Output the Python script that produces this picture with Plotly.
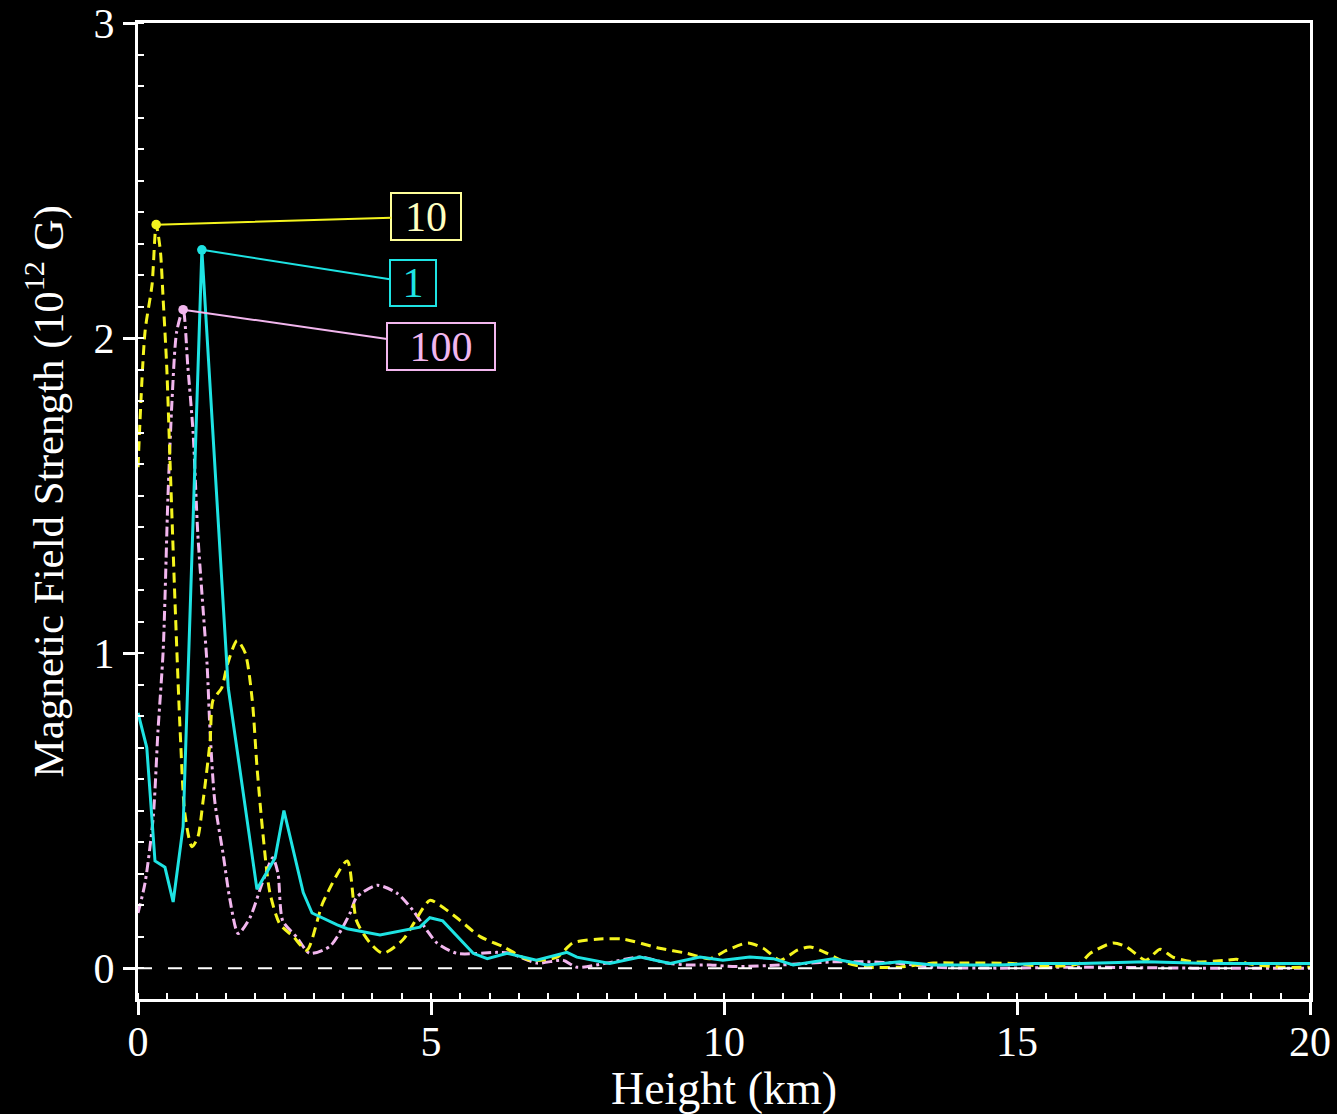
import numpy as np
import plotly.graph_objects as go

# ---- data ----
h1 = [0, 0.15, 0.29, 0.46, 0.6, 0.77, 1.09, 1.54, 2.03, 2.34, 2.49, 2.82, 2.97, 3.4, 3.57,
      4.13, 4.81, 4.98, 5.2, 5.72, 5.96, 6.3, 6.8, 7.32, 7.49, 8.05, 8.57, 9.08, 9.59, 9.98,
      10.44, 10.84, 11.18, 11.86, 12.44, 13.0, 13.57, 14.7, 15.3, 16.1, 17.2, 18.3, 20]
b1 = [0.81, 0.70, 0.34, 0.32, 0.21, 0.45, 2.28, 0.89, 0.25, 0.35, 0.50, 0.24, 0.175, 0.137, 0.125,
      0.105, 0.13, 0.16, 0.15, 0.047, 0.03, 0.047, 0.025, 0.05, 0.035, 0.015, 0.035, 0.015, 0.035, 0.025,
      0.035, 0.03, 0.01, 0.03, 0.01, 0.02, 0.01, 0.01, 0.015, 0.015, 0.02, 0.015, 0.015]

h10 = [0, 0.12, 0.24, 0.31, 0.38, 0.43, 0.49, 0.55, 0.63, 0.72, 0.8, 0.92, 1.02, 1.11, 1.23, 1.28,
       1.43, 1.52, 1.69, 1.83, 1.95, 2.03, 2.13, 2.25, 2.42, 2.65, 2.88, 3.16, 3.57, 3.73, 3.96,
       4.18, 4.52, 4.98, 5.15, 5.44, 5.84, 6.23, 6.69, 7.15, 7.42, 7.83, 8.28, 8.9, 9.37, 9.76,
       10.05, 10.41, 10.67, 10.96, 11.25, 11.47, 11.76, 12.1, 12.44, 13.0, 13.57, 14.15, 14.93,
       15.5, 16.07, 16.25, 16.64, 16.87, 17.2, 17.44, 17.66, 18.0, 18.58, 18.75, 18.92, 19.5, 20]
b10 = [1.59, 2.02, 2.17, 2.36, 2.28, 2.12, 1.91, 1.59, 1.17, 0.75, 0.49, 0.385, 0.415, 0.53, 0.72, 0.85,
       0.89, 0.96, 1.04, 1.0, 0.85, 0.64, 0.43, 0.24, 0.14, 0.10, 0.057, 0.21, 0.34, 0.15, 0.08,
       0.047, 0.09, 0.215, 0.2, 0.16, 0.1, 0.068, 0.025, 0.035, 0.08, 0.092, 0.092, 0.063, 0.047, 0.03,
       0.057, 0.08, 0.063, 0.025, 0.057, 0.067, 0.047, 0.016, 0.003, 0.003, 0.016, 0.016, 0.015,
       0.005, 0.015, 0.047, 0.08, 0.067, 0.025, 0.06, 0.035, 0.02, 0.025, 0.028, 0.015, 0.003, 0.003]

h100 = [0, 0.12, 0.26, 0.34, 0.43, 0.51, 0.58, 0.66, 0.77, 0.85, 0.94, 1.02, 1.11, 1.18, 1.23, 1.31,
        1.45, 1.57, 1.71, 1.91, 2.12, 2.3, 2.39, 2.47, 2.71, 2.93, 3.28, 3.62, 3.73, 4.08, 4.42,
        4.69, 4.93, 5.1, 5.44, 6.13, 6.35, 6.81, 7.25, 7.49, 8.0, 8.57, 9.03, 9.37, 9.76, 10.2,
        10.96, 11.4, 11.86, 12.44, 13.0, 13.57, 14.7, 16, 18, 20]
b100 = [0.175, 0.27, 0.48, 0.75, 1.01, 1.49, 1.80, 2.02, 2.09, 1.91, 1.70, 1.38, 1.14, 0.96, 0.75, 0.53,
        0.365, 0.216, 0.11, 0.16, 0.27, 0.35, 0.30, 0.15, 0.098, 0.047, 0.07, 0.175, 0.225, 0.263, 0.238,
        0.184, 0.12, 0.08, 0.047, 0.05, 0.047, 0.016, 0.025, 0.003, 0.016, 0.035, 0.016, 0.01, 0.01, 0.005,
        0.01, 0.015, 0.02, 0.02, 0.015, 0.003, 0.0, 0.003, 0.0, 0.0]

labels = ["1", "10", "100"]
x_ticks = [0, 5, 10, 15, 20]
y_ticks = [0, 1, 2, 3]

FONT = "Liberation Serif, Times New Roman, serif"
C1, C10, C100 = "#1ee3e3", "#f5f51e", "#f2b6ee"

fig = go.Figure()
fig.add_trace(go.Scatter(x=h100, y=b100, mode="lines", line=dict(color=C100, width=3, dash="10px,4px,3px,4px", shape="spline", smoothing=0.7), showlegend=False))
fig.add_trace(go.Scatter(x=h10, y=b10, mode="lines", line=dict(color=C10, width=3, dash="10px,6px", shape="spline", smoothing=0.7), showlegend=False))
fig.add_trace(go.Scatter(x=h1, y=b1, mode="lines", line=dict(color=C1, width=3), showlegend=False))

# zero line
fig.add_shape(type="line", xref="paper", yref="y", x0=0, x1=1, y0=0, y1=0,
              line=dict(color="white", width=2, dash="14px,16px"))

# labels with leader lines
specs = [
    (h10, b10, labels[1], C10, "#ffffc0", "#ffff99", 270, -8, 68, 45),
    (h1, b1, labels[0], C1, C1, C1, 211, 33, 44, 44),
    (h100, b100, labels[2], C100, C100, C100, 258, 37, 106, 45),
]
for hx, by, lab, lc, tc, bc, ax, ay, w, hgt in specs:
    i = int(np.argmax(by))
    fig.add_annotation(x=hx[i], y=by[i], xref="x", yref="y", text=lab,
                       showarrow=True, arrowhead=6, arrowsize=1.2, arrowwidth=2, arrowcolor=lc,
                       ax=ax, ay=ay, font=dict(family=FONT, size=42, color=tc),
                       bgcolor="black", bordercolor=bc, borderwidth=2, borderpad=0,
                       width=w, height=hgt, align="center", valign="middle")

# y-axis title
fig.add_annotation(text="Magnetic Field Strength (10<sup>12</sup> G)", textangle=-90,
                   xref="paper", yref="paper", x=-0.0794, y=0.52, xanchor="center", yanchor="middle",
                   showarrow=False, font=dict(family=FONT, size=43, color="white"))

fig.update_layout(
    width=1337, height=1114,
    paper_bgcolor="black", plot_bgcolor="black",
    margin=dict(l=138, r=27, t=23, b=115, autoexpand=False),
    font=dict(family=FONT, color="white", size=42),
    showlegend=False,
)
fig.update_xaxes(
    range=[0, 20], tickvals=x_ticks, ticktext=[str(v) for v in x_ticks],
    showgrid=False, zeroline=False, showline=True, linecolor="white", linewidth=3, mirror=True,
    ticks="outside", ticklen=13, tickwidth=3, tickcolor="white", automargin=False,
    ticklabelstandoff=-9,
    minor=dict(dtick=0.5, ticks="inside", ticklen=6, tickwidth=2, tickcolor="white", showgrid=False),
    tickfont=dict(family=FONT, size=42, color="white"),
    title=dict(text="Height (km)", font=dict(family=FONT, size=46, color="white"), standoff=0),
)
fig.update_yaxes(
    range=[-0.098, 3.0], tickvals=y_ticks, ticktext=[str(v) for v in y_ticks],
    showgrid=False, zeroline=False, showline=True, linecolor="white", linewidth=3, mirror=True,
    ticks="outside", ticklen=12, tickwidth=3, tickcolor="white", automargin=False,
    minor=dict(dtick=0.1, ticks="inside", ticklen=6, tickwidth=2, tickcolor="white", showgrid=False),
    tickfont=dict(family=FONT, size=42, color="white"),
)

fig.write_html("out.html", config={"displayModeBar": False},
               post_script="document.body.style.margin='0px';document.body.style.background='black';")
